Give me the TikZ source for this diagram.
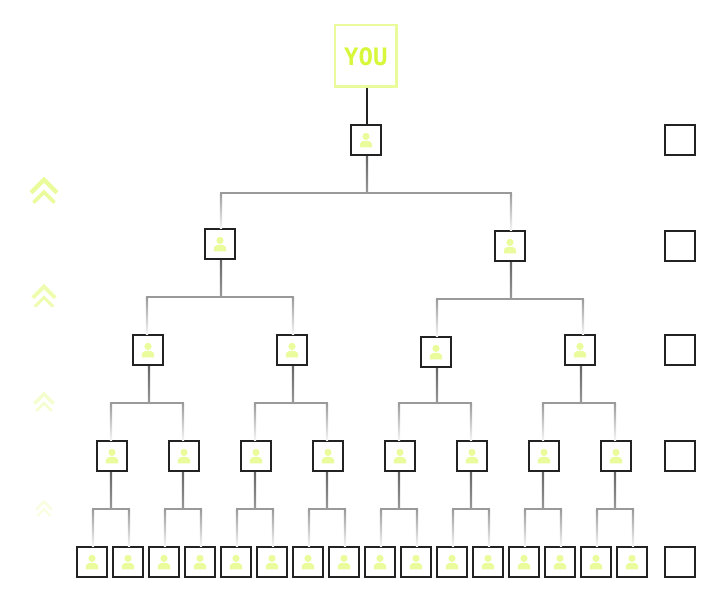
\documentclass[tikz,border=0pt]{standalone}
\usepackage{fontspec}
\usepackage{xcolor}
\usetikzlibrary{positioning,calc}
\newfontfamily\labelfont[BoldFont={DejaVu Sans Mono Bold}]{DejaVu Sans Mono}
\definecolor{ink}{HTML}{222222}
\definecolor{wire}{HTML}{9A9A9A}
\definecolor{wiredark}{HTML}{666666}
\definecolor{wirefade}{HTML}{F4F4F4}
\definecolor{lime}{HTML}{EAFB9C}
\definecolor{limetext}{HTML}{D6F73A}
\tikzset{
  box/.style={draw=ink,line width=2.4pt,fill=white,minimum size=29.6pt,inner sep=0pt},
  youbox/.style={draw=lime,line width=2.4pt,fill=white,minimum size=61.2pt,inner sep=0pt,
    text=limetext,font=\labelfont\bfseries\fontsize{24}{24}\selectfont},
  wireline/.style={draw=wire,line width=2.2pt},
  pics/person/.style={code={
    \fill[lime] (0,-3.6) circle (3.6);
    \fill[lime] (-6.2,7.3) -- (-6.2,5.5) .. controls (-6.2,2.2) and (-3.5,0.8) .. (-2,0.8)
      -- (2,0.8) .. controls (3.5,0.8) and (6.2,2.2) .. (6.2,5.5) -- (6.2,7.3) -- cycle;
  }},
  pics/chevrons/.style={code={
    \draw[lime,line width=#1*4.5pt] (-13,13) -- (0,0) -- (13,13);
    \draw[lime,line width=#1*3.5pt] (-10.5,23) -- (0,12.5) -- (10.5,23);
  }}
}
\begin{document}
\begin{tikzpicture}[x=1pt,y=-1pt]
\useasboundingbox (0,0) rectangle (720,602);
% top of the tree
\node[youbox] (you) at (365.8,55.8) {\raisebox{-10.2pt}[9pt][9pt]{YOU}};
\foreach \p/\x/\y in {1/366/140,2/220/244,3/510/246,4/148/350,5/292/350,6/436/352,7/580/350}{
  \node[box] (u\p) at (\x,\y) {};
  \pic at (u\p) {person};
}
% rows of eight and sixteen
\foreach \i in {0,...,7}{
  \pgfmathtruncatemacro{\p}{8+\i}
  \node[box] (u\p) at (112+72*\i,456) {};
  \pic at (u\p) {person};
}
\foreach \i in {0,...,15}{
  \pgfmathtruncatemacro{\p}{16+\i}
  \node[box] (u\p) at (92+36*\i,562) {};
  \pic at (u\p) {person};
}
% empty column on the right
\foreach \s/\y in {1/140,2/246,3/350,4/456,5/562}
  \node[box] (slot\s) at (680,\y) {};
% chevrons on the left
\foreach \y/\s/\o in {179.7/1/1,286.6/0.87/0.8,393.9/0.74/0.5,501.8/0.61/0.3}
  \pic[scale=\s,opacity=\o] at (44,\y) {chevrons=\s};
% connectors
\draw[ink,line width=2.2pt] ($(you.south)+(1.2,0)$) -- ($(u1.north)+(1,0)$);
\foreach \p/\a/\b/\ds/\da/\db/\dy in {1/2/3/1/1/1/1,2/4/5/1/-1/1/0,3/6/7/1/1/3/0,
  4/8/9/1/-1/-1/0,5/10/11/1/-1/-1/0,6/12/13/1/-1/-1/-1,7/14/15/1/-1/-1/0,
  8/16/17/-1/1/1/0,9/18/19/-1/1/1/0,10/20/21/-1/1/1/0,11/22/23/-1/1/1/0,
  12/24/25/-1/1/1/0,13/26/27/-1/1/1/0,14/28/29/-1/1/1/0,15/30/31/-1/1/1/0}{
  \coordinate (bus) at ($(u\p.south)!.5!(u\p.south |- u\a.north)+(0,\dy)$);
  \coordinate (left) at ($(u\a.north)+(\da,0)$);
  \coordinate (right) at ($(u\b.north)+(\db,0)$);
  \coordinate (stem) at ($(u\p.south)+(\ds,0)$);
  \draw[wireline,draw=wirefade] (left) |- (bus -| right) -- (right);
  \shade[top color=wiredark,bottom color=wire] ($(stem)+(-1.1,0)$) rectangle ($(stem |- bus)+(1.1,0)$);
  \shade[top color=wire,bottom color=wirefade] ($(left |- bus)+(-1.1,0)$) rectangle ($(left)+(1.1,0)$);
  \shade[top color=wire,bottom color=wirefade] ($(right |- bus)+(-1.1,0)$) rectangle ($(right)+(1.1,0)$);
  \draw[wireline,line cap=rect] (left |- bus) -- (right |- bus);
}
\end{tikzpicture}
\end{document}
